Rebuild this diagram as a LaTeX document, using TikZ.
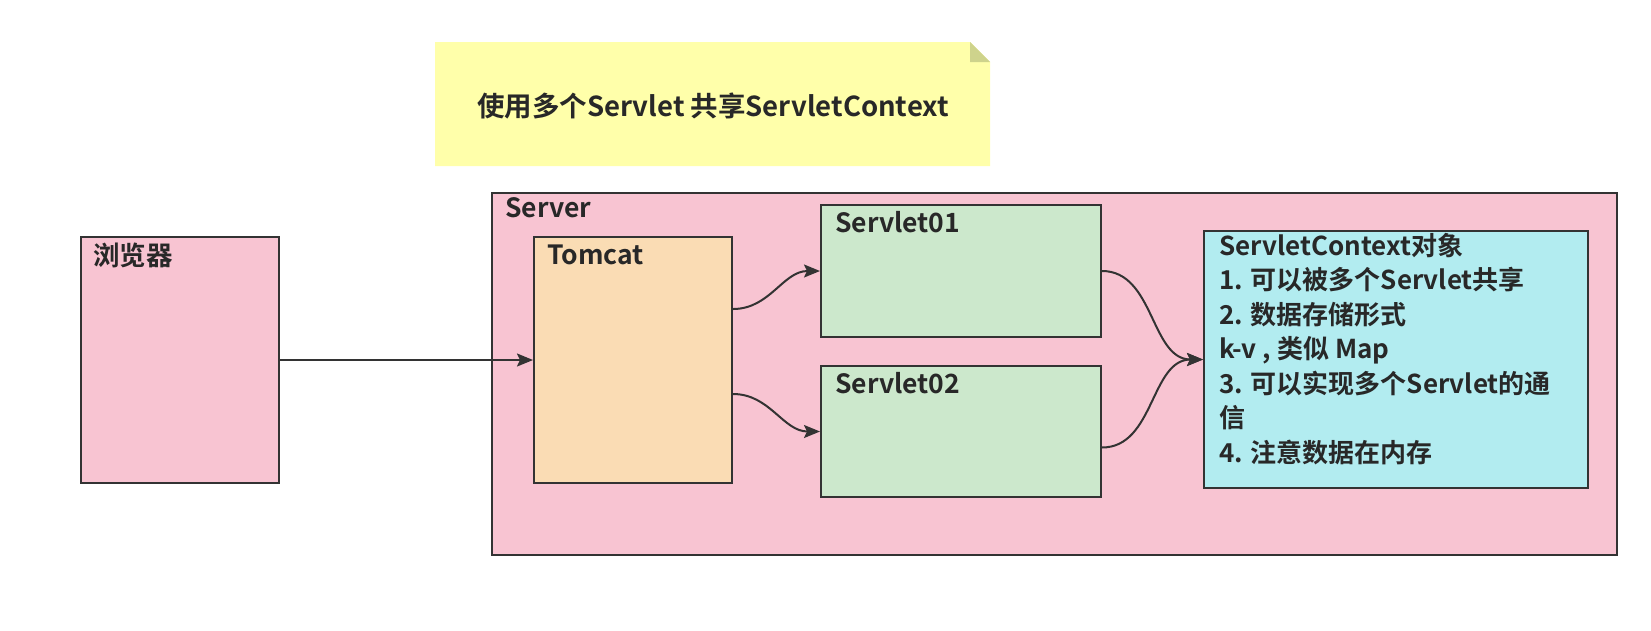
\documentclass[tikz,border=0pt]{standalone}
\usepackage{fontspec}
\setmainfont{Noto Sans CJK SC}[BoldFont={Noto Sans CJK SC Bold}]
\usetikzlibrary{arrows.meta}
\definecolor{edge}{RGB}{51,51,51}
\definecolor{txt}{RGB}{40,40,40}
\definecolor{pinkbg}{RGB}{248,196,210}
\definecolor{tomcatbg}{RGB}{250,220,180}
\definecolor{servletbg}{RGB}{204,232,204}
\definecolor{ctxbg}{RGB}{178,236,240}
\definecolor{notebg}{RGB}{255,255,170}
\definecolor{notefold}{RGB}{206,211,140}
\begin{document}
\begin{tikzpicture}[x=1pt,y=-1pt,
  box/.style={draw=edge, line width=2pt, inner sep=0pt, anchor=north west},
  lbl/.style={anchor=west, inner sep=0pt, text=txt, font=\fontsize{26.5}{30}\selectfont\bfseries},
  arr/.style={draw=edge, line width=2pt, -{Stealth[length=16pt,width=13pt,inset=3pt]}}]
\useasboundingbox (0,0) rectangle (1651,630);
\fill[white] (0,0) rectangle (1651,630);
% title note
\fill[notebg] (435,42) -- (970,42) -- (990,62) -- (990,166) -- (435,166) -- cycle;
\fill[notefold] (970,42) -- (970,62) -- (990,62) -- cycle;
\node[anchor=center, inner sep=0pt, text=txt, font=\fontsize{27.5}{30}\selectfont\bfseries] (title) at (713,106) {使用多个Servlet 共享ServletContext};
% boxes
\node[box, fill=pinkbg, minimum width=198pt, minimum height=246pt] (browser) at (80,236) {};
\node[box, fill=pinkbg, minimum width=1125pt, minimum height=362pt] (server) at (491,192) {};
\node[box, fill=tomcatbg, minimum width=198pt, minimum height=246pt] (tomcat) at (533,236) {};
\node[box, fill=servletbg, minimum width=280pt, minimum height=132pt] (servlet01) at (820,204) {};
\node[box, fill=servletbg, minimum width=280pt, minimum height=131pt] (servlet02) at (820,365) {};
\node[box, fill=ctxbg, minimum width=384pt, minimum height=257pt] (ctx) at (1203,230) {};
% labels
\node[lbl] (browserlbl) at (93,255) {浏览器};
\node[lbl] (serverlbl) at (505,208) {Server};
\node[lbl] (tomcatlbl) at (547,255) {Tomcat};
\node[lbl] (s1lbl) at (835,222) {Servlet01};
\node[lbl] (s2lbl) at (835,383) {Servlet02};
\node[anchor=north west, inner sep=0pt, align=left, text=txt,
  font=\fontsize{26}{34.5}\selectfont\bfseries] (ctxtext) at (1219,233)
  {ServletContext对象\\1. 可以被多个Servlet共享\\2. 数据存储形式\\k-v , 类似 Map\\3. 可以实现多个Servlet的通\\信\\4. 注意数据在内存};
% connectors
\draw[arr] (browser) -- (tomcat);
\draw[arr] ([yshift=51pt]tomcat.east) to[out=0,in=180] (servlet01.west);
\draw[arr] ([yshift=-34pt]tomcat.east) to[out=0,in=180] (servlet02.west);
\draw[arr] (servlet01.east) to[out=0,in=180] (ctx.west);
\draw[arr] ([yshift=-16pt]servlet02.east) to[out=0,in=180] (ctx.west);
\end{tikzpicture}
\end{document}
